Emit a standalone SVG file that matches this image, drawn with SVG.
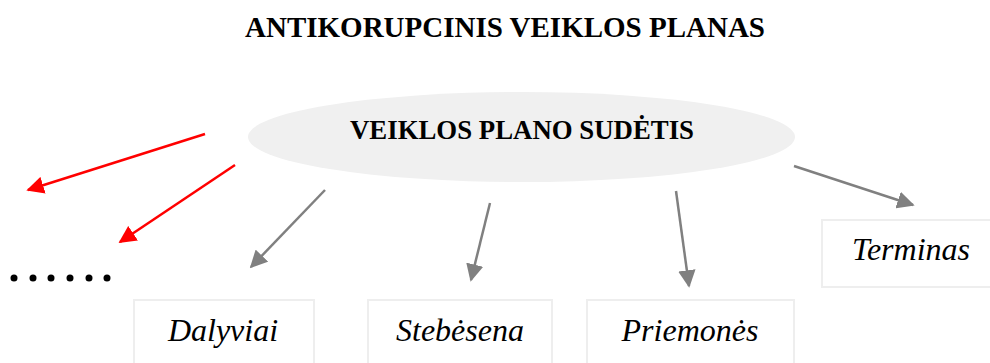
<svg xmlns="http://www.w3.org/2000/svg" width="990" height="363" viewBox="0 0 990 363">
<style>
.title{font-family:"Liberation Serif",serif;font-weight:bold;font-size:29px;fill:#000;text-anchor:middle}
.main{font-family:"Liberation Serif",serif;font-weight:bold;font-size:26.8px;fill:#000;text-anchor:middle}
.lbl{font-family:"Liberation Serif",serif;font-style:italic;font-size:32px;fill:#000;text-anchor:middle}
.box{fill:#fff;stroke:#eeeeee;stroke-width:2}
.g{stroke:#808080;stroke-width:2.5;fill:none}
.r{stroke:#ff0000;stroke-width:2.5;fill:none}
</style>
<defs>
<marker id="ag" viewBox="0 0 10 10" refX="9" refY="5" markerWidth="7" markerHeight="7" markerUnits="strokeWidth" orient="auto"><path d="M0,0 L10,5 L0,10 z" fill="#808080"/></marker>
<marker id="ar" viewBox="0 0 10 10" refX="9" refY="5" markerWidth="7" markerHeight="7" markerUnits="strokeWidth" orient="auto"><path d="M0,0 L10,5 L0,10 z" fill="#ff0000"/></marker>
</defs>
<text class="title" x="505" y="37">ANTIKORUPCINIS VEIKLOS PLANAS</text>
<g id="center">
<ellipse cx="521.5" cy="137" rx="273.5" ry="45" fill="#f0f0f0"/>
<text class="main" x="522" y="139">VEIKLOS PLANO SUDĖTIS</text>
</g>
<g id="dalyviai"><rect class="box" x="134" y="300" width="180" height="70"/><text class="lbl" x="223" y="341">Dalyviai</text></g>
<g id="stebesena"><rect class="box" x="368" y="300" width="184" height="70"/><text class="lbl" x="460" y="341">Stebėsena</text></g>
<g id="priemones"><rect class="box" x="587" y="300" width="207" height="70"/><text class="lbl" x="690" y="341">Priemonės</text></g>
<g id="terminas"><rect class="box" x="822" y="220" width="175" height="67"/><text class="lbl" x="911" y="260">Terminas</text></g>
<g id="dots" fill="#000">
<circle cx="14" cy="278" r="3.5"/><circle cx="33" cy="278" r="3.5"/><circle cx="51" cy="278" r="3.5"/><circle cx="70" cy="278" r="3.5"/><circle cx="89" cy="278" r="3.5"/><circle cx="107" cy="278" r="3.5"/>
</g>
<g id="connectors">
<line class="r" x1="205" y1="134" x2="28" y2="190" marker-end="url(#ar)"/>
<line class="r" x1="235" y1="165" x2="120" y2="242" marker-end="url(#ar)"/>
<line class="g" x1="325" y1="190" x2="251" y2="267" marker-end="url(#ag)"/>
<line class="g" x1="490" y1="203" x2="471" y2="280" marker-end="url(#ag)"/>
<line class="g" x1="676" y1="191" x2="689" y2="286" marker-end="url(#ag)"/>
<line class="g" x1="794" y1="166" x2="913" y2="205" marker-end="url(#ag)"/>
</g>
</svg>
